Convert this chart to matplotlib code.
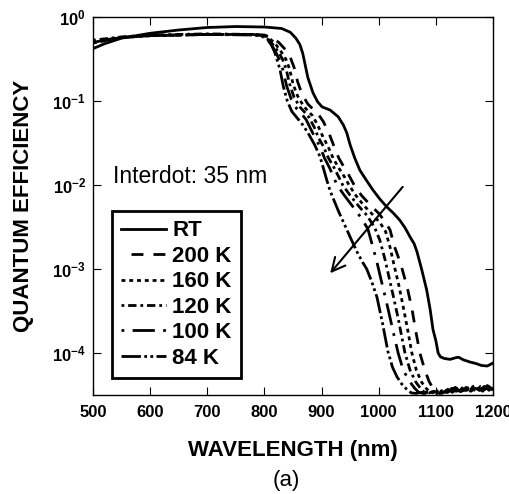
import matplotlib
matplotlib.use('Agg')
import matplotlib.pyplot as plt
from matplotlib.ticker import NullLocator

plt.rcParams['font.family'] = ['Liberation Sans', 'DejaVu Sans']
plt.rcParams['mathtext.fontset'] = 'custom'
plt.rcParams['mathtext.rm'] = 'Liberation Sans'
plt.rcParams['mathtext.bf'] = 'Liberation Sans:bold'

# ---------------- data ----------------
wl_rt = [500, 520, 550, 600, 650, 700, 750, 800, 830, 845, 855, 862, 867, 876, 885, 893, 901, 915, 929, 938,
         944, 950, 958, 967, 978, 990, 1002, 1014, 1026, 1037, 1046, 1055, 1062, 1067, 1075, 1084, 1090, 1095,
         1100, 1104, 1108, 1115, 1125, 1135, 1140, 1148, 1160, 1170, 1180, 1190, 1200]
qe_rt = [0.42, 0.48, 0.56, 0.64, 0.70, 0.75, 0.77, 0.76, 0.73, 0.66, 0.56, 0.47, 0.37, 0.19, 0.125, 0.098, 0.085,
         0.078, 0.065, 0.052, 0.042, 0.030, 0.021, 0.015, 0.0115, 0.0087, 0.0068, 0.0055, 0.0046, 0.0038, 0.0031,
         0.0024, 0.0020, 0.0016, 0.0010, 5.6e-4, 3.3e-4, 1.9e-4, 1.4e-4, 1.0e-4, 9.0e-5, 8.6e-5, 8.4e-5, 8.8e-5,
         8.9e-5, 8.3e-5, 7.8e-5, 7.5e-5, 7.1e-5, 7.0e-5, 7.6e-5]

wl_200 = [500, 550, 600, 700, 780, 800, 812, 825, 838, 846, 852, 858, 866, 876, 885, 894, 903, 912, 920, 930,
          940, 948, 957, 970, 985, 1000, 1012, 1020, 1027, 1034, 1041, 1050, 1058, 1065, 1072, 1080, 1088, 1095,
          1102, 1110, 1118, 1126, 1134, 1142, 1150, 1158, 1166, 1174, 1182, 1190, 1200]
qe_200 = [0.51, 0.57, 0.60, 0.62, 0.62, 0.61, 0.57, 0.50, 0.40, 0.32, 0.25, 0.17, 0.12, 0.092, 0.080, 0.070,
          0.057, 0.043, 0.031, 0.021, 0.016, 0.013, 0.010, 0.0075, 0.0058, 0.0046, 0.0036, 0.0029, 0.0019, 0.0014,
          0.0010, 6.0e-4, 3.4e-4, 1.8e-4, 1.0e-4, 6.5e-5, 4.6e-5, 3.8e-5, 3.4e-5, 3.3e-5, 3.5e-5, 3.4e-5, 3.7e-5,
          3.5e-5, 3.6e-5, 3.9e-5, 3.5e-5, 3.8e-5, 3.6e-5, 4.0e-5, 3.7e-5]

wl_160 = [500, 550, 600, 700, 780, 800, 810, 820, 830, 838, 844, 850, 858, 868, 876, 884, 893, 902, 911, 920,
          930, 940, 948, 960, 975, 990, 1003, 1012, 1020, 1027, 1035, 1042, 1050, 1058, 1066, 1075, 1083, 1090,
          1098, 1106, 1114, 1122, 1130, 1138, 1146, 1154, 1162, 1170, 1178, 1186, 1194, 1200]
qe_160 = [0.49, 0.57, 0.60, 0.62, 0.62, 0.60, 0.55, 0.47, 0.38, 0.31, 0.24, 0.16, 0.115, 0.088, 0.076, 0.067,
          0.052, 0.038, 0.029, 0.021, 0.016, 0.0125, 0.010, 0.0075, 0.0056, 0.0044, 0.0035, 0.0028, 0.0018, 0.0011,
          6.5e-4, 3.8e-4, 2.0e-4, 1.0e-4, 6.2e-5, 4.5e-5, 3.8e-5, 3.4e-5, 3.4e-5, 3.3e-5, 3.6e-5, 3.5e-5, 3.7e-5,
          3.4e-5, 3.8e-5, 3.6e-5, 3.9e-5, 3.5e-5, 4.0e-5, 3.7e-5, 3.9e-5, 3.6e-5]

wl_120 = [500, 550, 600, 700, 780, 798, 806, 815, 825, 832, 838, 844, 852, 862, 870, 878, 887, 895, 903, 912,
          922, 930, 937, 950, 965, 980, 993, 1002, 1011, 1018, 1026, 1034, 1040, 1046, 1055, 1065, 1073, 1080,
          1088, 1096, 1104, 1112, 1120, 1128, 1136, 1144, 1152, 1160, 1168, 1176, 1184, 1192, 1200]
qe_120 = [0.53, 0.58, 0.61, 0.63, 0.62, 0.60, 0.55, 0.47, 0.38, 0.31, 0.24, 0.16, 0.11, 0.085, 0.074, 0.064,
          0.049, 0.036, 0.029, 0.021, 0.016, 0.0125, 0.010, 0.0075, 0.0056, 0.0043, 0.0031, 0.0022, 0.0013, 8.0e-4,
          4.6e-4, 2.6e-4, 1.6e-4, 1.0e-4, 6.2e-5, 4.5e-5, 3.8e-5, 3.4e-5, 3.35e-5, 3.5e-5, 3.4e-5, 3.6e-5, 3.4e-5,
          3.8e-5, 3.5e-5, 3.9e-5, 3.6e-5, 3.8e-5, 4.1e-5, 3.6e-5, 3.9e-5, 3.7e-5, 4.0e-5]

wl_100 = [500, 550, 600, 700, 780, 796, 804, 812, 820, 826, 832, 839, 847, 857, 865, 873, 882, 890, 897, 905,
          914, 921, 927, 940, 955, 970, 981, 990, 997, 1004, 1012, 1020, 1027, 1034, 1043, 1055, 1063, 1070,
          1078, 1086, 1094, 1102, 1110, 1118, 1126, 1134, 1142, 1150, 1158, 1166, 1174, 1182, 1190, 1200]
qe_100 = [0.50, 0.57, 0.60, 0.62, 0.62, 0.60, 0.55, 0.47, 0.38, 0.31, 0.24, 0.15, 0.105, 0.080, 0.070, 0.060,
          0.045, 0.035, 0.029, 0.021, 0.016, 0.0125, 0.010, 0.0075, 0.0055, 0.0040, 0.0030, 0.0018, 0.0012, 7.5e-4,
          4.5e-4, 2.6e-4, 1.6e-4, 1.0e-4, 6.2e-5, 4.5e-5, 3.8e-5, 3.4e-5, 3.3e-5, 3.5e-5, 3.4e-5, 3.3e-5, 3.7e-5,
          3.4e-5, 3.6e-5, 3.9e-5, 3.5e-5, 3.7e-5, 4.0e-5, 3.6e-5, 3.9e-5, 3.5e-5, 4.1e-5, 3.7e-5]

wl_84 = [500, 550, 600, 650, 700, 780, 795, 805, 812, 818, 822, 827, 833, 840, 848, 858, 867, 876, 888, 897,
         903, 909, 915, 922, 930, 940, 950, 962, 972, 979, 988, 997, 1007, 1016, 1024, 1032, 1040, 1049, 1057,
         1065, 1073, 1081, 1089, 1097, 1105, 1113, 1121, 1129, 1137, 1145, 1153, 1161, 1169, 1177, 1185, 1193, 1200]
qe_84 = [0.50, 0.57, 0.60, 0.61, 0.62, 0.61, 0.59, 0.55, 0.47, 0.38, 0.31, 0.24, 0.15, 0.10, 0.075, 0.062, 0.052,
         0.042, 0.030, 0.022, 0.016, 0.0115, 0.0085, 0.0065, 0.0048, 0.0034, 0.0024, 0.0016, 0.0012, 0.0010, 7.0e-4,
         4.6e-4, 2.2e-4, 1.05e-4, 6.8e-5, 5.2e-5, 4.3e-5, 3.7e-5, 3.35e-5, 3.3e-5, 3.4e-5, 3.3e-5, 3.5e-5, 3.3e-5,
         3.6e-5, 3.4e-5, 3.7e-5, 3.4e-5, 3.8e-5, 3.5e-5, 3.9e-5, 3.5e-5, 3.8e-5, 3.6e-5, 4.0e-5, 3.6e-5, 3.8e-5]

labels = ['RT', '200 K', '160 K', '120 K', '100 K', '84 K']
x_ticks = [500, 600, 700, 800, 900, 1000, 1100, 1200]
y_ticks = [1e0, 1e-1, 1e-2, 1e-3, 1e-4]
y_tick_labels = [r'$\mathbf{10^{0}}$', r'$\mathbf{10^{-1}}$', r'$\mathbf{10^{-2}}$',
                 r'$\mathbf{10^{-3}}$', r'$\mathbf{10^{-4}}$']

# ---------------- figure ----------------
fig = plt.figure(figsize=(5.10, 4.94), dpi=100)
ax = fig.add_axes([93/510, 1-395/494, 400/510, 378/494])

series = [(wl_rt, qe_rt), (wl_200, qe_200), (wl_160, qe_160),
          (wl_120, qe_120), (wl_100, qe_100), (wl_84, qe_84)]
styles = ['-', (4.3, (4.3, 3.6)), (0, (1.4, 1.4)), (0, (1, 1.4, 3, 1.4)),
          (0, (1, 3, 8, 3)), (0, (7, 1.2, 1, 1.2, 1, 1.2))]

for (wl, qe), lab, ls in zip(series, labels, styles):
    ax.plot(wl, qe, color='black', lw=2.0, linestyle=ls, label=lab)

ax.set_yscale('log')
ax.set_xlim(500, 1200)
ax.set_ylim(10**-4.5, 1.0)
ax.set_xticks(x_ticks)
ax.set_xticklabels([str(v) for v in x_ticks], fontweight='bold', fontsize=12)
ax.set_yticks(y_ticks)
ax.set_yticklabels(y_tick_labels, fontsize=12)
ax.yaxis.set_minor_locator(NullLocator())
ax.xaxis.set_minor_locator(NullLocator())
ax.tick_params(direction='in', length=6, width=0.8, top=True, right=True)
ax.tick_params(axis='x', pad=7)
ax.tick_params(axis='y', pad=5)
for sp in ax.spines.values():
    sp.set_linewidth(1.0)

ax.set_xlabel('WAVELENGTH (nm)', fontsize=16, fontweight='bold')
ax.xaxis.set_label_coords(0.5, -0.148)
ax.xaxis.label.set_va('center')
ax.set_ylabel('QUANTUM EFFICIENCY', fontsize=16, fontweight='bold')
ax.yaxis.set_label_coords(-0.1725, 0.5)
ax.yaxis.label.set_va('center')

ax.text(0.05, 0.561, 'Interdot: 35 nm', transform=ax.transAxes, fontsize=16.5, va='baseline')

ax.annotate('', xy=(915, 8.9e-4), xytext=(1042, 9.5e-3),
            arrowprops=dict(arrowstyle='->', lw=1.5, mutation_scale=24, color='black',
                            shrinkA=0, shrinkB=0))

leg = ax.legend(loc='lower left', bbox_to_anchor=(0.0475, 0.045), frameon=True, fancybox=False,
                edgecolor='black', prop={'weight': 'bold', 'size': 16}, handlelength=2.0,
                handletextpad=0.3, labelspacing=0.2, borderpad=0.42, borderaxespad=0)
leg.get_frame().set_linewidth(2.0)
leg.get_frame().set_alpha(1)

fig.text(286/510, 1-480/494, '(a)', ha='center', va='center', fontsize=16)

fig.savefig('out.png', dpi=100)
